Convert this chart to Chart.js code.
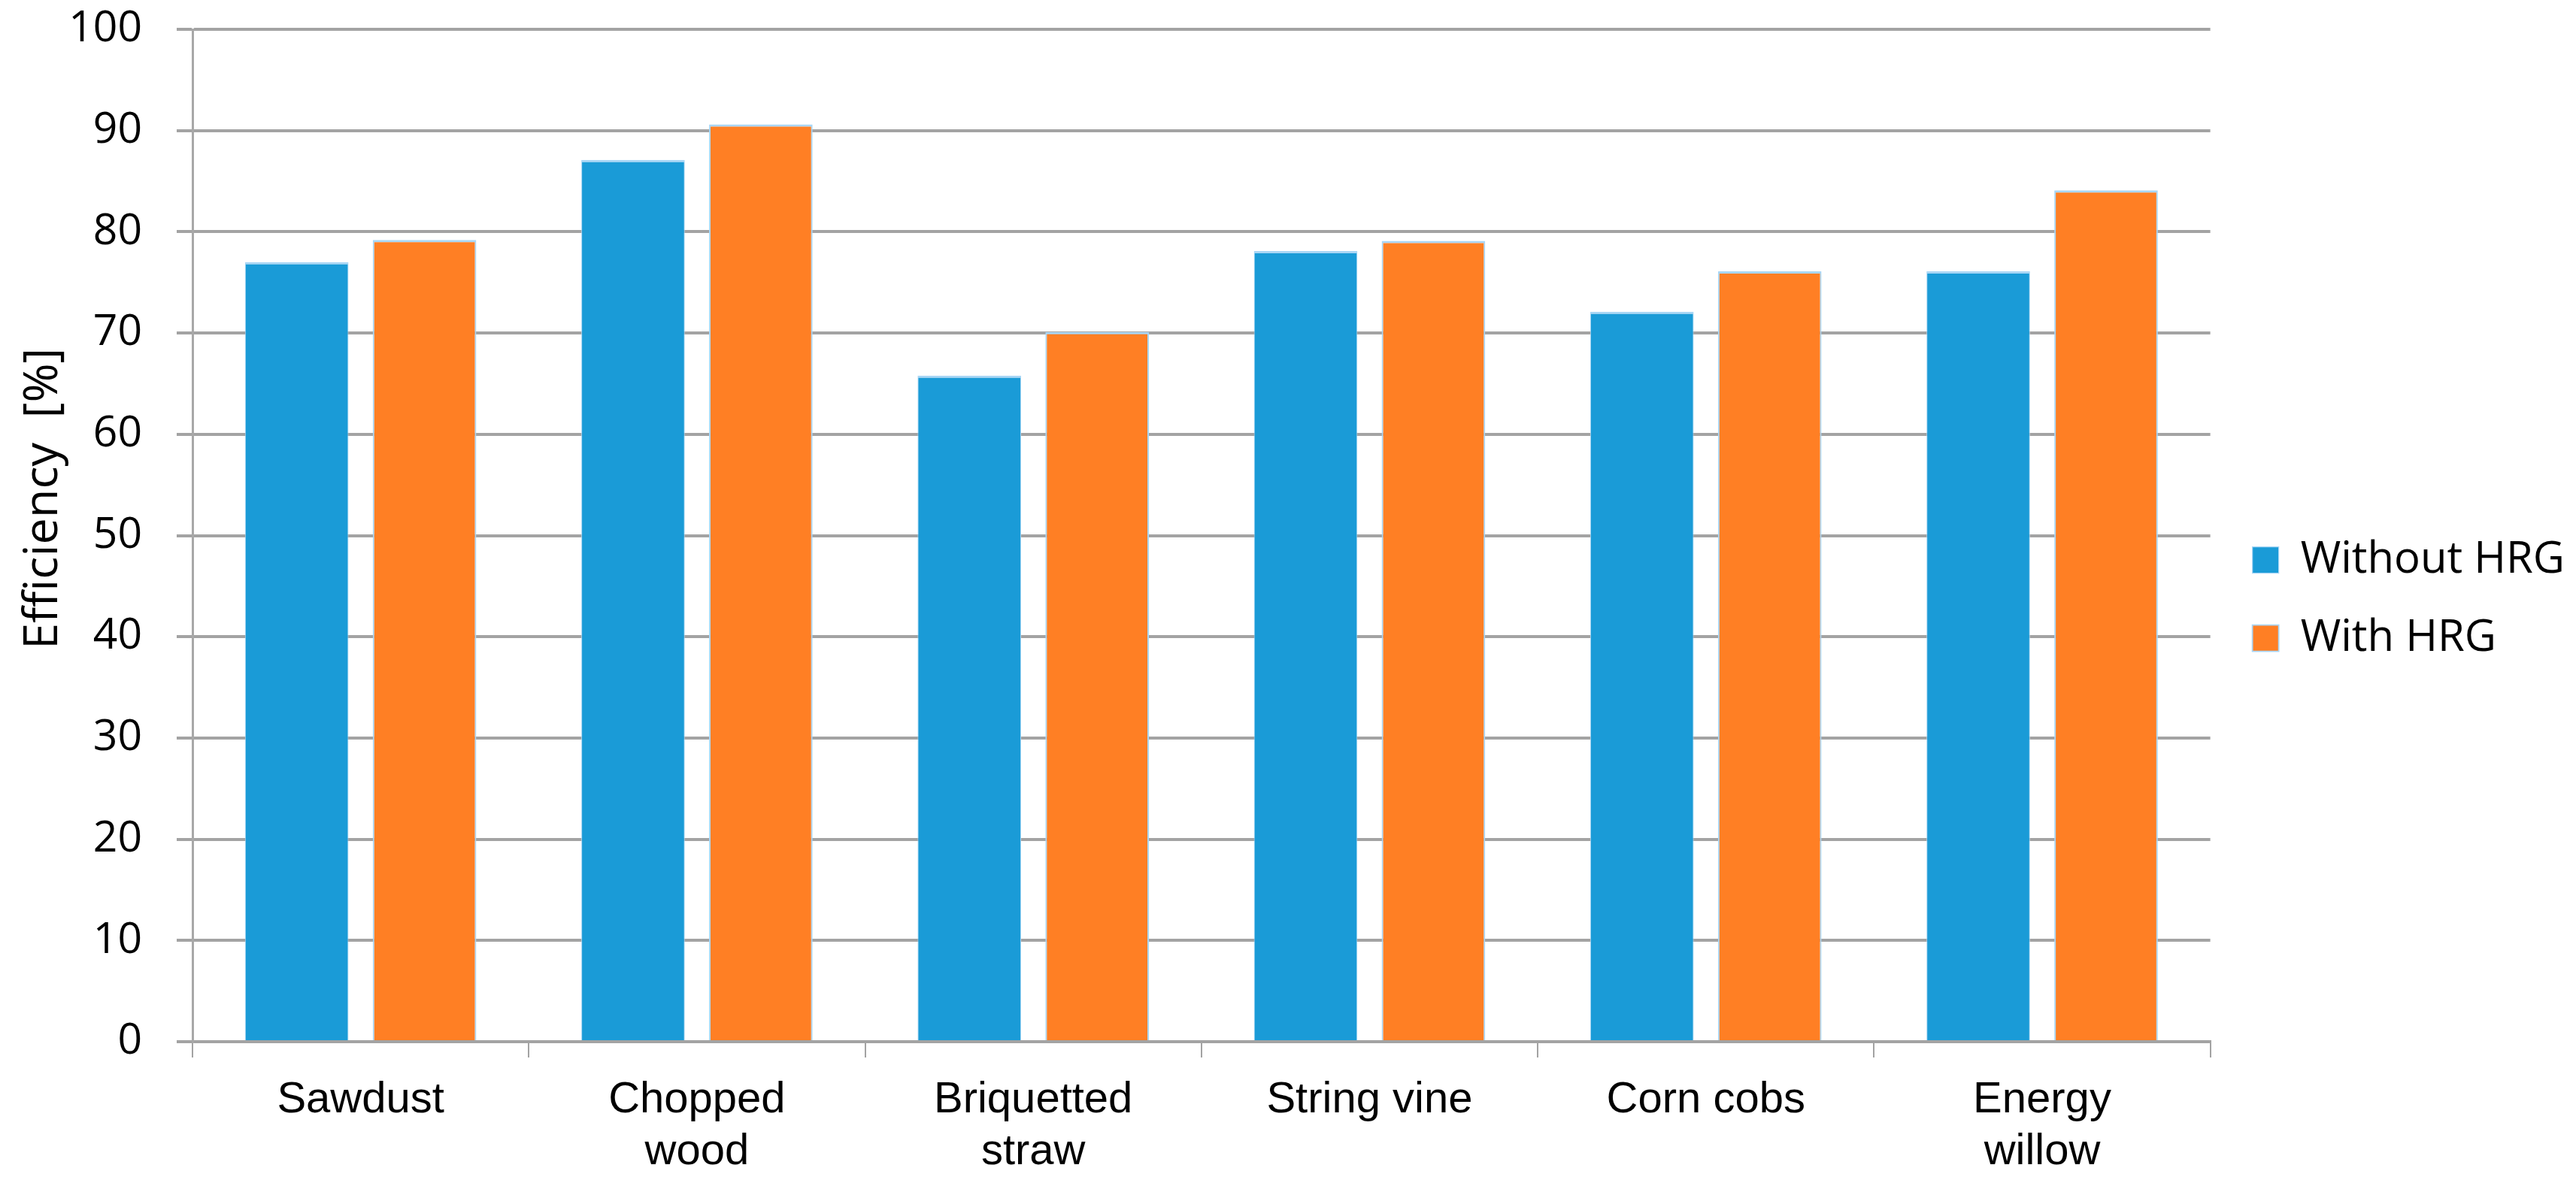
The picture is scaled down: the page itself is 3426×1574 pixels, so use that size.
<!DOCTYPE html>
<html>
<head>
<meta charset="utf-8">
<script src="https://cdn.jsdelivr.net/npm/chart.js@4/dist/chart.umd.min.js"></script>
<style>
  html, body { margin: 0; padding: 0; background: #fff; }
  #wrap { width: 3426px; height: 1574px; }
</style>
</head>
<body>
<div id="wrap"><canvas id="effChart" width="3426" height="1574"></canvas></div>
<script>
// fuel types on the x axis
var fuels = ['Sawdust', ['Chopped', 'wood'], ['Briquetted', 'straw'], 'String vine', 'Corn cobs', ['Energy', 'willow']];
// efficiency in %
var withoutHrg = [77.0, 87.1, 65.8, 78.1, 72.1, 76.1];
var withHrg = [79.2, 90.6, 70.1, 79.1, 76.1, 84.1];
var seriesNames = ['Without HRG', 'With HRG'];

var gridGrey = '#a3a3a3';

var ctx = document.getElementById('effChart');
var effChart = new Chart(ctx, {
  type: 'bar',
  data: {
    labels: fuels,
    datasets: [{
      label: seriesNames[0],
      data: withoutHrg,
      backgroundColor: '#1a9bd7',
      borderColor: '#a9d6f5',
      borderWidth: {top: 3, left: 1, right: 1, bottom: 0},
      categoryPercentage: 0.76,
      barPercentage: 0.81
    }, {
      label: seriesNames[1],
      data: withHrg,
      backgroundColor: '#ff7f24',
      borderColor: '#a9d6f5',
      borderWidth: {top: 3, left: 2, right: 2, bottom: 0},
      categoryPercentage: 0.76,
      barPercentage: 0.81
    }]
  },
  options: {
    responsive: false,
    devicePixelRatio: 1,
    animation: false,
    layout: {
      padding: {top: 5, left: 20, right: 5, bottom: 6}
    },
    plugins: {
      tooltip: {enabled: false},
      legend: {
        position: 'right',
        title: {display: true, text: '', font: {size: 1}, padding: {top: 10, bottom: 10}},
        labels: {
          boxWidth: 35,
          boxHeight: 35,
          padding: 46,
          color: '#000',
          font: {family: 'Open Sans', size: 58}
        }
      }
    },
    scales: {
      x: {
        grid: {
          display: true,
          drawOnChartArea: false,
          drawTicks: true,
          tickLength: 21,
          color: gridGrey,
          lineWidth: 2
        },
        border: {display: true, color: gridGrey, width: 4},
        ticks: {
          color: '#000',
          padding: 22,
          maxRotation: 0,
          font: {family: 'Liberation Sans', size: 58}
        },
        afterFit: function(scale) { scale.height = 182; }
      },
      y: {
        min: 0,
        max: 100,
        ticks: {
          stepSize: 10,
          color: '#000',
          padding: 46,
          font: {family: 'Open Sans', size: 57}
        },
        grid: {
          color: gridGrey,
          lineWidth: 4,
          drawTicks: true,
          tickLength: 21
        },
        border: {display: true, color: '#a8a8a8', width: 3},
        title: {
          display: true,
          text: '      Efficiency  [%]',
          color: '#000',
          padding: {top: 0, bottom: 0},
          font: {family: 'Open Sans', size: 63}
        },
        afterFit: function(scale) {
          scale.width = 236;
          scale.paddingTop = 39;
          scale.paddingBottom = 0;
        }
      },
      // empty right axis, only keeps a gap before the legend
      y2: {
        position: 'right',
        display: true,
        grid: {display: false},
        border: {display: false},
        ticks: {display: false},
        afterFit: function(scale) { scale.width = 10; }
      }
    }
  }
});
</script>
</body>
</html>
